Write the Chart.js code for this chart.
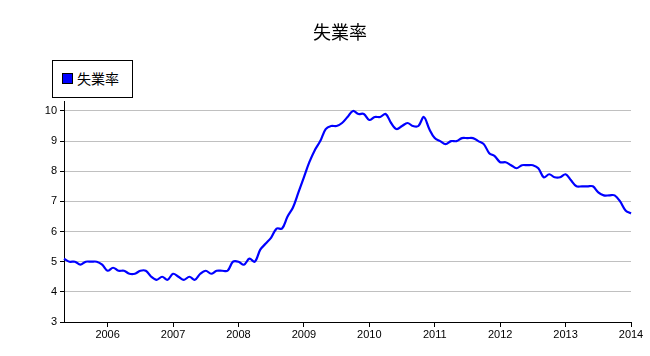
<!DOCTYPE html>
<html>
<head>
<meta charset="utf-8">
<script src="https://cdn.jsdelivr.net/npm/chart.js@4"></script>
<style>
    body { margin: 0; background: #fff; }
    #wrap { position: relative; width: 650px; height: 356px; }
    #titulo {
        position: absolute; left: 240px; top: 19px; width: 200px; height: 24px;
        line-height: 24px; text-align: center; color: #000;
        font-family: "Noto Sans CJK JP", sans-serif; font-size: 18px;
    }
    #legend-box {
        position: absolute; left: 52px; top: 60px; width: 79px; height: 36px;
        border: 1px solid #000; background: #fff;
        font-family: "Noto Sans CJK JP", sans-serif; font-size: 14px; color: #000;
    }
    #legend-box .swatch {
        position: absolute; left: 9px; top: 12px; width: 9px; height: 9px;
        background: #0000ff; border: 1px solid #000;
    }
    #legend-box .txt { position: absolute; left: 24px; top: 7px; line-height: 20px; }
</style>
</head>
<body>
<div id="wrap">
    <canvas id="grafico" width="650" height="356"></canvas>
    <div id="titulo">失業率</div>
    <div id="legend-box"><span class="swatch"></span><span class="txt">失業率</span></div>
</div>
<script>
// monthly values, May 2005 - Jan 2014
const v2005 = [5.1, 5.0, 5.0, 4.9, 5.0, 5.0, 5.0, 4.9];
const v2006 = [4.7, 4.8, 4.7, 4.7, 4.6, 4.6, 4.7, 4.7, 4.5, 4.4, 4.5, 4.4];
const v2007 = [4.6, 4.5, 4.4, 4.5, 4.4, 4.6, 4.7, 4.6, 4.7, 4.7, 4.7, 5.0];
const v2008 = [5.0, 4.9, 5.1, 5.0, 5.4, 5.6, 5.8, 6.1, 6.1, 6.5, 6.8, 7.3];
const v2009 = [7.8, 8.3, 8.7, 9.0, 9.4, 9.5, 9.5, 9.6, 9.8, 10.0, 9.9, 9.9];
const v2010 = [9.7, 9.8, 9.8, 9.9, 9.6, 9.4, 9.5, 9.6, 9.5, 9.5, 9.8, 9.4];
const v2011 = [9.1, 9.0, 8.9, 9.0, 9.0, 9.1, 9.1, 9.1, 9.0, 8.9, 8.6, 8.5];
const v2012 = [8.3, 8.3, 8.2, 8.1, 8.2, 8.2, 8.2, 8.1, 7.8, 7.9, 7.8, 7.8];
const v2013 = [7.9, 7.7, 7.5, 7.5, 7.5, 7.5, 7.3, 7.2, 7.2, 7.2, 7.0, 6.7];
const v2014 = [6.6];

const valores = [].concat(v2005, v2006, v2007, v2008, v2009, v2010, v2011, v2012, v2013, v2014);

// month labels "YYYY-MM"
const meses = [];
for (let y = 2005, m = 5; meses.length < valores.length; m++) {
    if (m > 12) { m = 1; y++; }
    meses.push(y + '-' + String(m).padStart(2, '0'));
}

const yMin = 3, yMax = 10.33;

document.addEventListener('DOMContentLoaded', function () {
    var ctx = document.getElementById('grafico').getContext('2d');
    new Chart(ctx, {
        type: 'line',
        data: {
            labels: meses,
            datasets: [{
                label: '失業率',
                data: valores,
                borderColor: '#0000ff',
                borderWidth: 2.2,
                pointRadius: 0,
                tension: 0.35,
                fill: false
            }]
        },
        options: {
            responsive: false,
            animation: false,
            layout: { padding: { left: 30, right: 19, top: 101, bottom: 0 } },
            plugins: {
                legend: { display: false },
                tooltip: { enabled: false },
                title: { display: false }
            },
            scales: {
                x: {
                    type: 'category',
                    offset: false,
                    afterBuildTicks: function (scale) {
                        scale.ticks = scale.ticks.filter(function (t) {
                            return meses[t.value].slice(5) === '01';
                        });
                    },
                    afterFit: function (scale) { scale.height = 34; },
                    ticks: {
                        autoSkip: false,
                        maxRotation: 0,
                        color: '#000',
                        padding: 1,
                        font: { family: '"Liberation Sans", Arial, sans-serif', size: 11 },
                        callback: function (value) { return meses[value].slice(0, 4); }
                    },
                    grid: {
                        drawOnChartArea: false,
                        tickColor: '#000',
                        tickLength: 5
                    },
                    border: { display: true, color: '#000', width: 1 }
                },
                y: {
                    min: yMin,
                    max: yMax,
                    afterFit: function (scale) { scale.width = 34; },
                    ticks: {
                        stepSize: 1,
                        includeBounds: false,
                        color: '#000',
                        padding: 3,
                        font: { family: '"Liberation Sans", Arial, sans-serif', size: 11 }
                    },
                    grid: {
                        color: '#c0c0c0',
                        tickColor: '#000',
                        tickLength: 4
                    },
                    border: { display: true, color: '#000', width: 1 }
                }
            }
        }
    });
});
</script>
</body>
</html>
